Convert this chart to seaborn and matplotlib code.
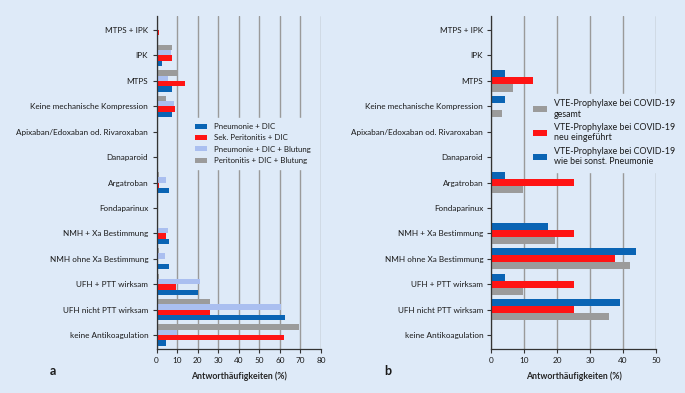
import numpy as np
import pandas as pd
import matplotlib
matplotlib.use('Agg')
import matplotlib.pyplot as plt
import seaborn as sns

kategorien = ['MTPS + IPK', 'IPK', 'MTPS', 'Keine mechanische Kompression',
              'Apixaban/Edoxaban od. Rivaroxaban', 'Danaparoid', 'Argatroban',
              'Fondaparinux', 'NMH + Xa Bestimmung', 'NMH ohne Xa Bestimmung',
              'UFH + PTT wirksam', 'UFH nicht PTT wirksam', 'keine Antikoagulation']

# Panel a
pneumonie_dic = [0, 2.7, 7.3, 7.3, 0, 0, 6.2, 0, 6.0, 6.2, 20.3, 62.4, 4.4]
peritonitis_dic = [1.3, 7.4, 13.7, 9.0, 0, 0, 1.3, 0, 4.5, 0, 9.3, 26.1, 61.8]
pneumonie_blutung = [0, 6.9, 5.8, 8.7, 0, 0, 4.5, 0, 5.8, 4.3, 21.0, 60.5, 10.0]
peritonitis_blutung = [0, 7.4, 10.6, 4.4, 0, 0, 1.3, 0, 0, 1.2, 1.3, 26.1, 69.5]

# Panel b
covid_gesamt = [0, 0, 6.4, 3.1, 0, 0, 9.6, 0, 19.4, 42.0, 9.6, 35.6, 0]
covid_neu = [0, 0, 12.5, 0, 0, 0, 25.0, 0, 25.0, 37.5, 25.0, 25.0, 0]
covid_wie_sonst = [0, 0, 4.2, 4.2, 0, 0, 4.2, 0, 17.3, 43.8, 4.2, 39.2, 0]

serien_a = {'Peritonitis + DIC + Blutung': peritonitis_blutung,
            'Pneumonie + DIC + Blutung': pneumonie_blutung,
            'Sek. Peritonitis + DIC': peritonitis_dic,
            'Pneumonie + DIC': pneumonie_dic}
farben_a = ['#9b9b9b', '#aabff0', '#ff1414', '#0a64b4']

serien_b = {'VTE-Prophylaxe bei COVID-19\nwie bei sonst. Pneumonie': covid_wie_sonst,
            'VTE-Prophylaxe bei COVID-19\nneu eingeführt': covid_neu,
            'VTE-Prophylaxe bei COVID-19\ngesamt': covid_gesamt}
farben_b = ['#0a64b4', '#ff1414', '#9b9b9b']

def long_df(serien):
    rows = []
    for name, werte in serien.items():
        for k, v in zip(kategorien, werte):
            rows.append({'kategorie': k, 'serie': name, 'wert': v})
    return pd.DataFrame(rows)

bg = '#deeaf8'
sns.set_style('white')
plt.rcParams['font.family'] = ['Lato', 'DejaVu Sans']
plt.rcParams['text.color'] = '#1a1a1a'

fig = plt.figure(figsize=(6.85, 3.93), dpi=100, facecolor=bg)
ax1 = fig.add_axes([0.2285, 0.112, 0.240, 0.847])
ax2 = fig.add_axes([0.7175, 0.112, 0.240, 0.847])

for ax, serien, farben, xmax, leg_pos, lsp, lfs in [
        (ax1, serien_a, farben_a, 80, (0.18, 0.705), 0.55, 5.7),
        (ax2, serien_b, farben_b, 50, (0.19, 0.78), 0.5, 6.4)]:
    df = long_df(serien)
    sns.barplot(data=df, x='wert', y='kategorie', hue='serie',
                hue_order=list(serien.keys()), palette=farben, saturation=1,
                order=kategorien, width=0.84, linewidth=0, ax=ax)
    ax.set_facecolor(bg)
    ax.set_xlim(0, xmax)
    ax.set_ylim(12.55, -0.55)
    ax.set_xticks(range(0, xmax + 1, 10))
    ax.xaxis.grid(True, color='#9a9a9a', lw=1)
    ax.yaxis.grid(False)
    ax.set_axisbelow(True)
    for s in ['top', 'right']:
        ax.spines[s].set_visible(False)
    for s in ['left', 'bottom']:
        ax.spines[s].set_color('#333333')
        ax.spines[s].set_linewidth(0.9)
    ax.tick_params(axis='both', length=3, width=0.8, color='#333333',
                   labelsize=5.9, labelcolor='#1a1a1a', pad=3, left=True, bottom=True)
    ax.set_ylabel('')
    ax.set_xlabel('Antworthäufigkeiten (%)', fontsize=6.3, fontweight='bold', labelpad=5)
    h, l = ax.get_legend_handles_labels()
    ax.legend(h[::-1], l[::-1], loc='upper left', bbox_to_anchor=leg_pos,
              fontsize=lfs, frameon=True, facecolor=bg, edgecolor=bg,
              framealpha=1, handlelength=1.6, handleheight=0.6,
              labelspacing=lsp, borderpad=0.6)

fig.text(0.072, 0.047, 'a', fontsize=9, fontweight='bold')
fig.text(0.561, 0.047, 'b', fontsize=9, fontweight='bold')

fig.savefig('out.png', dpi=100, facecolor=bg)
